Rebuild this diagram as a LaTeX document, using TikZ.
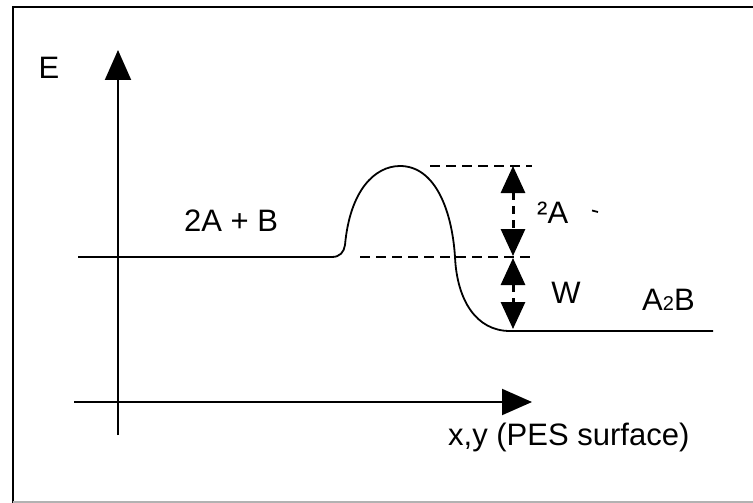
\documentclass[tikz,border=0pt]{standalone}
\usepackage{fontspec}
\setmainfont{Liberation Sans}
\usetikzlibrary{arrows.meta}
\tikzset{
  axis/.style={line width=2pt,-{Triangle[length=30pt,width=26pt]}},
  curve/.style={line width=1.8pt},
  guide/.style={line width=2pt,dash pattern=on 10pt off 6pt},
  dimarrow/.style={line width=3pt,dash pattern=on 8pt off 6pt,
    {Triangle[length=27pt,width=24pt]}-{Triangle[length=27pt,width=24pt]}},
  lbl/.style={inner sep=0pt,font=\fontsize{31}{36}\selectfont},
  frameline/.style={line width=2pt},
}
\begin{document}
\begin{tikzpicture}[x=1pt,y=-1pt]
\useasboundingbox (0,0) rectangle (753,503);
% frame
\coordinate (fbl) at (12.5,503);
\coordinate (ftl) at (12.5,7);
\coordinate (ftr) at (753,7);
\draw[frameline] (fbl) -- (ftl) -- (ftr);
\coordinate (gbl) at (12.5,502);
\coordinate (gbr) at (753,502);
\draw[line width=1.2pt,black!30] (gbl) -- (gbr);
% axes
\coordinate (yb) at (118,435);
\coordinate (yt) at (118,50);
\coordinate (xl) at (74,402);
\coordinate (xr) at (532,402);
\draw[axis] (yb) -- (yt);
\draw[axis] (xl) -- (xr);
% energy curve
\coordinate (c0) at (78,257);
\coordinate (c1) at (332,257);
\coordinate (c2) at (345,245);
\coordinate (peak) at (400,166);
\coordinate (c3) at (455,257);
\coordinate (cmin) at (510,331);
\coordinate (c4) at (713,331);
\draw[curve] (c0) -- (c1) .. controls (340,257) and (344,252) .. (c2)
  .. controls (350,190) and (375,166) .. (peak)
  .. controls (435,166) and (452,210) .. (c3)
  .. controls (457,300) and (476,331) .. (cmin) -- (c4);
% dashed guides
\coordinate (g1l) at (430,166);
\coordinate (g1r) at (532,166);
\coordinate (g2l) at (360,257);
\coordinate (g2r) at (532,257);
\draw[guide] (g1l) -- (g1r);
\draw[guide] (g2l) -- (g2r);
% dimension arrows
\coordinate (d1) at (513,166);
\coordinate (d2) at (513,256);
\coordinate (d3) at (513,258);
\coordinate (d4) at (513,329);
\draw[dimarrow] (d1) -- (d2);
\draw[dimarrow] (d3) -- (d4);
% small mark
\coordinate (m1) at (592,210.5);
\coordinate (m2) at (598,212);
\draw[line width=1.8pt] (m1) -- (m2);
% labels
\node[lbl,anchor=base] (E) at (49,79) {E};
\node[lbl,anchor=base] (react) at (231,231) {2A + B};
\node[lbl,anchor=base west] (dA) at (537,223) {²A};
\node[lbl,anchor=base] (W) at (566,303) {W};
\node[lbl,anchor=base west] (prod) at (642,310) {A{\fontsize{20}{20}\selectfont 2}B};
\node[lbl,anchor=base west] (xlab) at (448,445) {x,y (PES surface)};
\end{tikzpicture}
\end{document}
